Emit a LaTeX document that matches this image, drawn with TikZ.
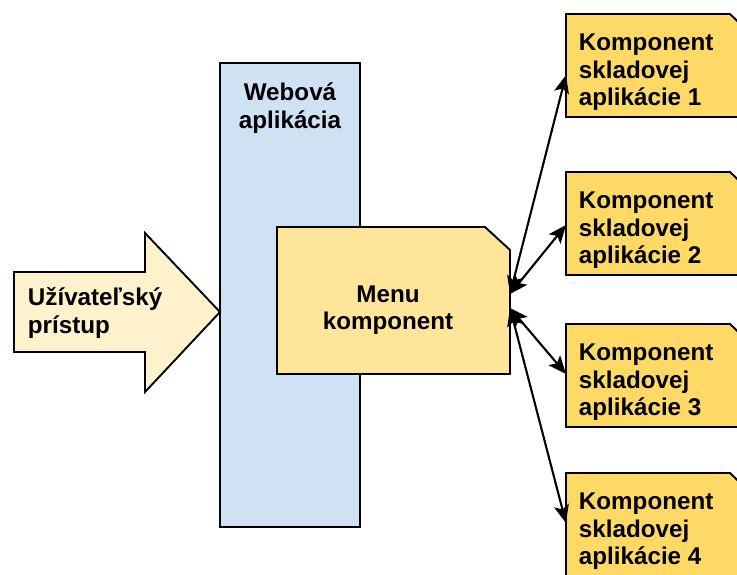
\documentclass[tikz,border=0pt]{standalone}
\usepackage{fontspec}
\setmainfont{Liberation Sans}
\usetikzlibrary{arrows.meta, positioning}

\definecolor{webblue}{HTML}{CFE2F3}
\definecolor{useryellow}{HTML}{FFF2CC}
\definecolor{menuyellow}{HTML}{FFE599}
\definecolor{compyellow}{HTML}{FFD966}

\begin{document}
\begin{tikzpicture}[x=1pt, y=-1pt, line width=1.9pt, line join=miter,
    lbl/.style={font=\bfseries\fontsize{24.2}{27.5}\selectfont, align=left, inner sep=0pt},
    slot/.style={inner sep=0pt, outer sep=0pt},
    link/.style={line width=2.1pt, >={Stealth[length=18pt,width=15pt,inset=4pt]}, <->}
]
    \useasboundingbox (0,0) rectangle (737,574);

    % --- Web application ---
    \node[draw, fill=webblue, minimum width=140pt, minimum height=464pt, inner sep=0pt] (web) at (290,295) {};
    \node[lbl, align=center] (webtxt) at (290,108) {Webová\\aplikácia};

    % --- User access arrow ---
    \draw[fill=useryellow] (14,272) -- (145,272) -- (145,233) -- (220,312)
        -- (145,392) -- (145,352) -- (14,352) -- cycle;
    \node[lbl, anchor=west] (user) at (27,313) {Užívateľský\\prístup};

    % --- Menu component ---
    \node[slot, minimum width=233pt, minimum height=147pt] (menu) at (393.5,300.5) {};
    \draw[fill=menuyellow] (menu.north west) -- ([xshift=-25pt]menu.north east) -- ([yshift=-23pt]menu.north east)
        -- (menu.south east) -- (menu.south west) -- cycle;
    \node[lbl, align=center] (menutxt) at (388,310) {Menu\\komponent};

    % --- Warehouse application components ---
    \foreach \i/\y in {1/65.5, 2/223.5, 3/375.5, 4/524.5} {
        \node[slot, minimum width=188pt, minimum height=103pt] (c\i) at (660,\y) {};
        \draw[fill=compyellow] (c\i.north west) -- ([xshift=-24pt]c\i.north east) -- ([yshift=-23pt]c\i.north east)
            -- (c\i.south east) -- (c\i.south west) -- cycle;
        \node[lbl, anchor=west] (t\i) at (578,{\y+7}) {Komponent\\skladovej\\aplikácie \i};
    }

    % --- Links between menu and components ---
    \draw[link] ([yshift=6.5pt]menu.east) -- ([yshift=-9.5pt]c1.west);
    \draw[link] ([yshift=6.5pt]menu.east) -- ([yshift=-1.5pt]c2.west);
    \draw[link] ([yshift=-7.5pt]menu.east) -- ([yshift=1.5pt]c3.west);
    \draw[link] ([yshift=-7.5pt]menu.east) -- ([yshift=1.5pt]c4.west);

\end{tikzpicture}
\end{document}
